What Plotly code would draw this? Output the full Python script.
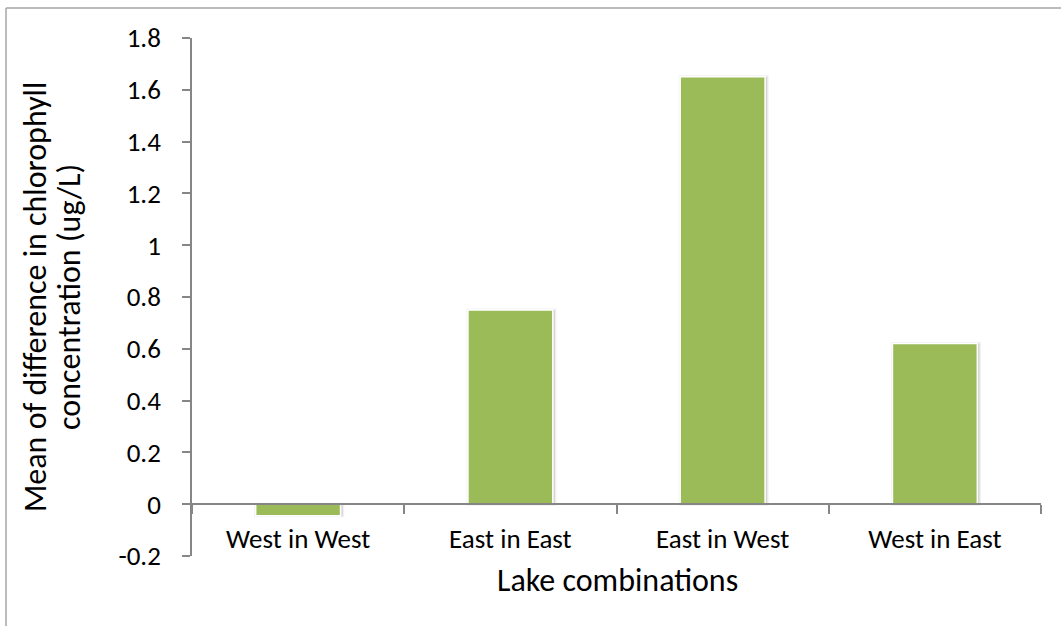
import plotly.graph_objects as go

categories = ["West in West", "East in East", "East in West", "West in East"]
values = [-0.045, 0.75, 1.65, 0.62]
ytick_vals = [-0.2, 0, 0.2, 0.4, 0.6, 0.8, 1.0, 1.2, 1.4, 1.6, 1.8]
ytick_text = ["-0.2", "0", "0.2", "0.4", "0.6", "0.8", "1", "1.2", "1.4", "1.6", "1.8"]
ytitle_lines = ["Mean of difference in chlorophyll", "concentration (ug/L)"]
xtitle = "Lake combinations"

W, H = 1061, 626
ml, mr, mt, mb = 192, 20, 38, 70
pw, ph = W - ml - mr, H - mt - mb

def px_x(x):
    return (x - ml) / pw

def px_y(y):
    return (H - mb - y) / ph

FONT = "Carlito, Lato, sans-serif"
axis_col = "#868686"
TICK_SIZE = 27
TITLE_SIZE = 32

fig = go.Figure()
# soft shadow behind bars
fig.add_trace(go.Bar(
    x=categories, y=values,
    marker=dict(color="rgba(0,0,0,0.12)", line=dict(color="rgba(0,0,0,0.06)", width=3)),
    width=0.41, offset=-0.2, hoverinfo="skip",
))
fig.add_trace(go.Bar(
    x=categories, y=values,
    marker=dict(color="#9BBB59", line=dict(color="white", width=1.5)),
    width=0.4, offset=-0.2,
))

fig.update_layout(
    width=W, height=H,
    margin=dict(l=ml, r=mr, t=mt, b=mb),
    paper_bgcolor="white", plot_bgcolor="white",
    showlegend=False, barmode="overlay",
    font=dict(family=FONT, color="black"),
    xaxis=dict(
        anchor="free", position=0.1,
        showline=True, linecolor=axis_col, linewidth=1.5,
        ticks="outside", tickson="boundaries", ticklen=9, tickcolor=axis_col, tickwidth=1.5,
        tickfont=dict(size=TICK_SIZE, family=FONT, color="black"),
        ticklabelstandoff=11,
        showgrid=False, zeroline=False,
    ),
    yaxis=dict(
        range=[-0.2, 1.8],
        tickvals=ytick_vals, ticktext=ytick_text,
        showline=True, linecolor=axis_col, linewidth=1.5,
        ticks="outside", ticklen=8, tickcolor=axis_col, tickwidth=1.5,
        tickfont=dict(size=TICK_SIZE, family=FONT, color="black"),
        ticklabelstandoff=16,
        showgrid=False, zeroline=False,
    ),
    annotations=[
        dict(text=ytitle_lines[0],
             x=px_x(35), y=px_y(297), xref="paper", yref="paper",
             xanchor="center", yanchor="middle", textangle=-90, showarrow=False,
             font=dict(size=TITLE_SIZE, family=FONT, color="black")),
        dict(text=ytitle_lines[1],
             x=px_x(69), y=px_y(297), xref="paper", yref="paper",
             xanchor="center", yanchor="middle", textangle=-90, showarrow=False,
             font=dict(size=TITLE_SIZE, family=FONT, color="black")),
        dict(text=xtitle,
             x=px_x(617), y=px_y(580), xref="paper", yref="paper",
             xanchor="center", yanchor="middle", showarrow=False,
             font=dict(size=TITLE_SIZE, family=FONT, color="black")),
    ],
    shapes=[
        dict(type="line", xref="paper", yref="paper",
             x0=px_x(6), x1=px_x(6), y0=px_y(8), y1=px_y(640),
             line=dict(color="#a6a6a6", width=1.5)),
        dict(type="line", xref="paper", yref="paper",
             x0=px_x(6), x1=px_x(1070), y0=px_y(8), y1=px_y(8),
             line=dict(color="#a6a6a6", width=1.5)),
    ],
)

fig.write_html("out.html")
